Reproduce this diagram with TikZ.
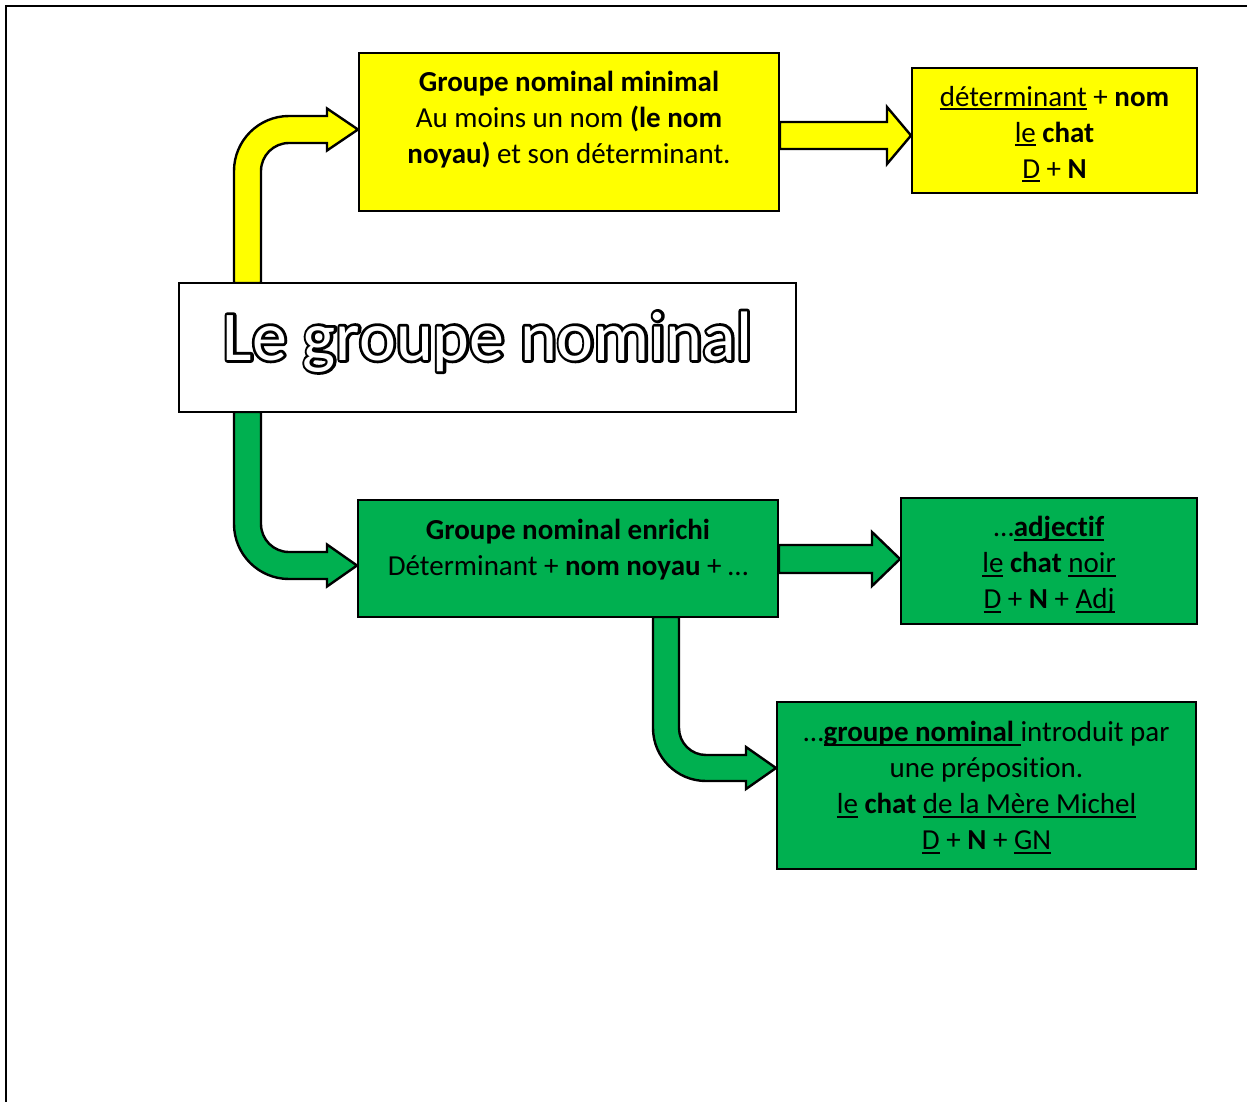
\documentclass[tikz,border=0pt]{standalone}
\usepackage{fontspec}
\setmainfont{Carlito}[Ligatures=NoCommon]
\usetikzlibrary{calc}
\definecolor{gyellow}{HTML}{FFFF00}
\definecolor{ggreen}{HTML}{00B050}
\newcommand\ulx[1]{\setbox0\hbox{#1}\rlap{\rule[-4pt]{\wd0}{1.8pt}}\box0\relax}
\newcommand\strokedtext[1]{\special{pdf:code q 0 G 5.6 w 1 j 1 Tr}#1\special{pdf:code Q}}
\begin{document}
\begin{tikzpicture}[x=1pt,y=1pt,
  box/.style={draw=black,line width=2pt,inner sep=0pt},
  txt/.style={inner sep=0pt,align=center,font=\fontsize{29}{36}\selectfont},
  titletxt/.style={inner sep=0pt,anchor=base,font=\fontsize{70}{80}\selectfont},
  blockarrow/.style={draw=black,line width=2.4pt,line join=miter}]
\useasboundingbox (0,0) rectangle (1247,-1102);
\begin{scope}
\clip (0,0) rectangle (1247,-1102);
\draw[line width=2.5pt] (6,-6) rectangle (1270,-1130);
\end{scope}

% boxes (positions)
\path (569,-132) node[box,fill=gyellow,minimum width=420,minimum height=158] (minimal) {};
\path (1054.5,-130.5) node[box,fill=gyellow,minimum width=285,minimum height=125] (detmin) {};
\path (568,-558.5) node[box,fill=ggreen,minimum width=420,minimum height=117] (enrichi) {};
\path (1049,-561) node[box,fill=ggreen,minimum width=296,minimum height=126] (adjectif) {};
\path (986.5,-785.5) node[box,fill=ggreen,minimum width=419,minimum height=167] (gnprep) {};

% block arrows
\draw[blockarrow,fill=gyellow] (234,-283) -- (234,-171) arc (180:90:55) -- (327,-116) -- (327,-108.5)
  -- (minimal.west |- 0,-129.5) -- (327,-150.5) -- (327,-143) -- (289,-143) arc (90:180:28) -- (261,-283) -- cycle;
\draw[blockarrow,fill=ggreen] (234,-412) -- (234,-524) arc (180:270:55) -- (327,-579) -- (327,-586.5)
  -- (enrichi.west |- 0,-565.5) -- (327,-544.5) -- (327,-552) -- (289,-552) arc (270:180:28) -- (261,-412) -- cycle;
\draw[blockarrow,fill=ggreen] (653,-617) -- (653,-728) arc (180:270:53) -- (746,-781) -- (746,-789)
  -- (gnprep.west |- 0,-768) -- (746,-747) -- (746,-755) -- (706,-755) arc (270:180:27) -- (679,-617) -- cycle;
\draw[blockarrow,fill=gyellow] (minimal.east |- 0,-122) -- (887,-122) -- (887,-107) -- (detmin.west |- 0,-135.5)
  -- (887,-164) -- (887,-149) -- (minimal.east |- 0,-149) -- cycle;
\draw[blockarrow,fill=ggreen] (enrichi.east |- 0,-545) -- (872,-545) -- (872,-532) -- (adjectif.west |- 0,-559)
  -- (872,-586) -- (872,-573) -- (enrichi.east |- 0,-573) -- cycle;

% redraw boxes on top
\path (569,-132) node[box,fill=gyellow,minimum width=420,minimum height=158] (minimalB) {};
\path (1054.5,-130.5) node[box,fill=gyellow,minimum width=285,minimum height=125] (detminB) {};
\path (568,-558.5) node[box,fill=ggreen,minimum width=420,minimum height=117] (enrichiB) {};
\path (1049,-561) node[box,fill=ggreen,minimum width=296,minimum height=126] (adjectifB) {};
\path (986.5,-785.5) node[box,fill=ggreen,minimum width=419,minimum height=167] (gnprepB) {};
\path (487.5,-347.5) node[box,fill=white,minimum width=617,minimum height=129] (title) {};

% texts
\node[txt] (minimalT) at (569,-120) {\textbf{Groupe nominal minimal}\\Au moins un nom \textbf{(le nom}\\\textbf{noyau)} et son déterminant.};
\node[txt] (detminT) at (1054.5,-134) {\ulx{déterminant} + \textbf{nom}\\\ulx{le} \textbf{chat}\\\ulx{D} + \textbf{N}};
\node[txt] (enrichiT) at (568,-549.5) {\textbf{Groupe nominal enrichi}\\Déterminant + \textbf{nom noyau} + …};
\node[txt] (adjectifT) at (1049,-565) {…\ulx{\textbf{adjectif}}\\\ulx{le} \textbf{chat} \ulx{noir}\\\ulx{D} + \textbf{N} + \ulx{Adj}};
\node[txt] (gnprepT) at (986.5,-787.5) {…\ulx{\textbf{groupe nominal}\ }introduit par\\une préposition.\\\ulx{le} \textbf{chat} \ulx{de la Mère Michel}\\\ulx{D} + \textbf{N} + \ulx{GN}};

\coordinate (titlebase) at ($(title.center)+(0,-12.5)$);
\node[titletxt] (titleO) at (titlebase) {\strokedtext{Le groupe nominal}};
\node[titletxt,text=white] (titleT) at (titlebase) {Le groupe nominal};
\end{tikzpicture}
\end{document}
